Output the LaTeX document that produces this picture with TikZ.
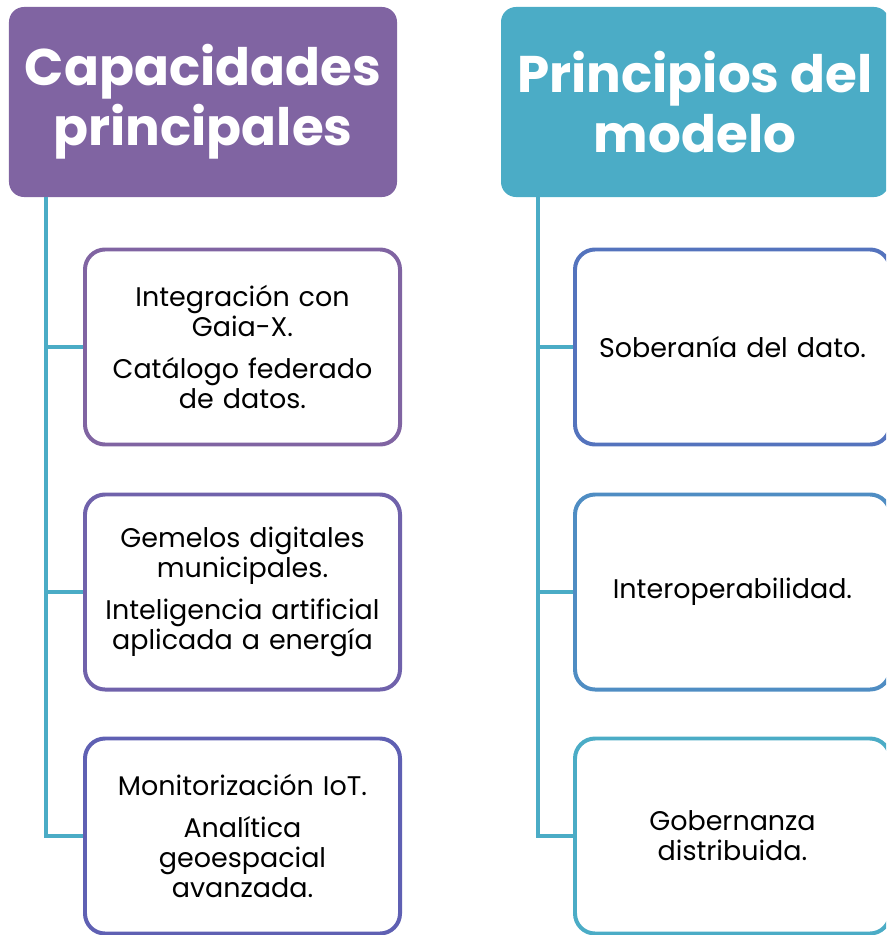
\documentclass[tikz,border=0pt]{standalone}
\usepackage{fontspec}
\setmainfont{Poppins}
\usetikzlibrary{positioning}

\definecolor{hdrpurple}{HTML}{8064A2}
\definecolor{hdrteal}{HTML}{4BACC6}
\definecolor{bdA}{HTML}{8064A2}
\definecolor{bdB}{HTML}{7062AB}
\definecolor{bdC}{HTML}{5F60B3}
\definecolor{bdD}{HTML}{5473BD}
\definecolor{bdE}{HTML}{4F8DC3}
\definecolor{bdF}{HTML}{4BACC6}

\begin{document}
\begin{tikzpicture}[x=0.03cm, y=-0.03cm,
    header/.style={rounded corners=0.45cm, minimum width=11.64cm, minimum height=5.7cm,
        text=white, align=center, font=\fontsize{44}{51}\selectfont\bfseries},
    item/.style={draw=#1, fill=white, line width=3.4pt, rounded corners=0.6cm,
        minimum width=9.45cm, minimum height=5.85cm, text width=9cm, align=center,
        font=\fontsize{23}{25.5}\selectfont},
    link/.style={hdrteal, line width=3.4pt}]
    % Page frame
    \clip (0,0) rectangle (886,935);

    % Draw the two headers
    \node[header, fill=hdrpurple] (capas) at (203,102) {Capacidades\\principales};
    \node[header, fill=hdrteal] (princ) at (695,102) {Principios del\\modelo};

    % Trunk start points
    \coordinate (tcap) at (46,197);
    \coordinate (tpri) at (538,197);

    % Draw the boxes on the left
    \foreach \n/\y/\c/\t in {
        1/347/bdA/{Integración con\\Gaia-X.\\[10pt]Catálogo federado\\de datos.},
        2/592/bdB/{Gemelos digitales\\municipales.\\[10pt]Inteligencia artificial\\aplicada a energía},
        3/836/bdC/{Monitorización IoT.\\[10pt]Analítica\\geoespacial\\avanzada.}} {
        \draw[link] (tcap) |- (242,\y);
        \node[item=\c] (cap\n) at (242.5,\y) {\t};
    }

    % Draw the boxes on the right
    \foreach \n/\y/\c/\t in {
        1/347/bdD/{Soberanía del dato.},
        2/592/bdE/{Interoperabilidad.},
        3/836/bdF/{Gobernanza\\distribuida.}} {
        \draw[link] (tpri) |- (732,\y);
        \node[item=\c] (pri\n) at (732.5,\y) {\t};
    }
\end{tikzpicture}
\end{document}
